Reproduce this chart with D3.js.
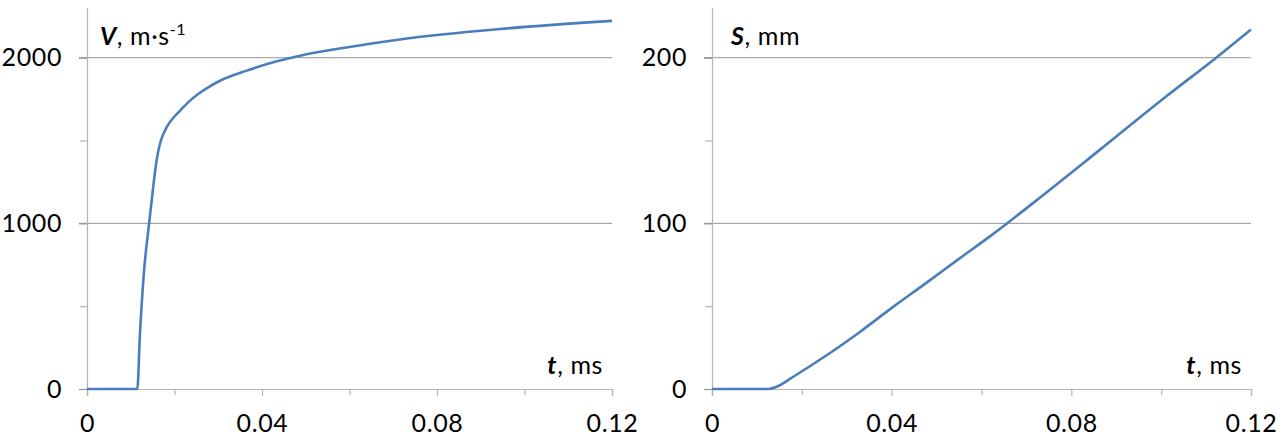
<!DOCTYPE html>
<html>
<head>
<meta charset="utf-8">
<script src="https://cdn.jsdelivr.net/npm/d3@7"></script>
<style>
  body { margin: 0; background: #fff; }
  svg { display: block; }
  text { font-family: Lato, "Open Sans", sans-serif; fill: #000; letter-spacing: 0.6px; }
</style>
</head>
<body>
<svg id="chart" width="1285" height="441"></svg>
<script>
'use strict';

// time, ms
var timeTicks = [0, 0.04, 0.08, 0.12];
var timeMinorTicks = [0.02, 0.06, 0.1];

// velocity panel
var velTime = [0, 0.0115, 0.0121, 0.0130, 0.0142, 0.0152, 0.0160, 0.0167, 0.0175, 0.0182, 0.0195, 0.0213, 0.0233, 0.0254, 0.0278, 0.0304, 0.0365, 0.0434, 0.0487, 0.06, 0.0715, 0.0944, 0.12];
var velValue = [0, 0, 331, 700, 1000, 1235, 1395, 1482, 1542, 1580, 1630, 1681, 1735, 1781, 1823, 1861, 1922, 1978, 2012, 2065, 2110, 2173, 2222];
var velTicks = [0, 1000, 2000];
var velMinorTicks = [500, 1500];

// path panel
var pathTime = [0, 0.0115, 0.0130, 0.0144, 0.0181, 0.0256, 0.0330, 0.0404, 0.0478, 0.0552, 0.0627, 0.0716, 0.0864, 0.1013, 0.1124, 0.12];
var pathValue = [0, 0, 0.2, 1.4, 7.4, 20.5, 34.6, 49.7, 64.2, 79, 93.8, 112.5, 144.5, 177, 200.3, 217];
var pathTicks = [0, 100, 200];
var pathMinorTicks = [50, 150];

var svg = d3.select('#chart');

function drawPanel(cfg) {
  var x = d3.scaleLinear().domain([0, 0.12]).range([cfg.left, cfg.right]);
  var y = d3.scaleLinear().domain([0, cfg.yMax]).range([389, 8]);
  var g = svg.append('g');

  // gridlines
  g.selectAll('line.grid')
    .data(cfg.yTicks.filter(function (d) { return d > 0; }))
    .enter()
    .append('line')
    .attr('x1', cfg.left - 8)
    .attr('x2', cfg.right)
    .attr('y1', function (d) { return y(d); })
    .attr('y2', function (d) { return y(d); })
    .attr('stroke', '#959595')
    .attr('stroke-width', 1);

  // y axis
  var yAxis = g.append('g')
    .attr('transform', 'translate(' + cfg.left + ',0)')
    .call(d3.axisLeft(y).tickValues(cfg.yTicks).tickSize(8).tickPadding(17).tickFormat(d3.format('d')));
  g.append('g')
    .attr('transform', 'translate(' + cfg.left + ',0)')
    .call(d3.axisLeft(y).tickValues(cfg.yMinor).tickSize(7).tickFormat(''))
    .select('.domain').remove();

  // x axis
  var xAxis = g.append('g')
    .attr('transform', 'translate(0,' + y(0) + ')')
    .call(d3.axisBottom(x).tickValues(timeTicks).tickSize(7).tickPadding(18)
      .tickFormat(function (d) { return d === 0 ? '0' : d3.format('.2f')(d); }));
  g.append('g')
    .attr('transform', 'translate(0,' + y(0) + ')')
    .call(d3.axisBottom(x).tickValues(timeMinorTicks).tickSize(6).tickFormat(''))
    .select('.domain').remove();

  g.selectAll('.domain').attr('stroke', '#b4b4b4').attr('stroke-width', 1.2);
  g.selectAll('.tick line').attr('stroke', '#b4b4b4').attr('stroke-width', 1.2);
  yAxis.selectAll('.tick line').attr('stroke', '#959595');
  g.selectAll('.tick text')
    .style('font-family', 'Lato, sans-serif')
    .style('font-size', '25px')
    .attr('fill', '#000');
  xAxis.selectAll('.tick text').attr('dy', '0.71em');
  yAxis.select('.domain').attr('d', 'M0.5,' + (y(0) + 7) + 'V' + y(cfg.yMax));

  // series
  var pts = cfg.tData.map(function (t, i) { return [t, cfg.vData[i]]; });
  var line = d3.line()
    .x(function (d) { return x(d[0]); })
    .y(function (d) { return y(d[1]); })
    .curve(d3.curveMonotoneX);
  g.append('path')
    .datum(pts)
    .attr('d', line)
    .attr('fill', 'none')
    .attr('stroke', '#4a7ebb')
    .attr('stroke-width', 2.6)
    .attr('stroke-linejoin', 'round');

  // y title
  var yt = g.append('text')
    .attr('x', cfg.left + cfg.titleDx)
    .attr('y', 45)
    .style('font-size', '25px');
  yt.append('tspan').style('font-weight', 'bold').style('font-style', 'italic').text(cfg.yName);
  yt.append('tspan').text(cfg.yUnit);
  if (cfg.yUnitSup) {
    yt.append('tspan').attr('dy', -10).style('font-size', '16px').text(cfg.yUnitSup);
  }

  // x title
  var xt = g.append('text')
    .attr('x', cfg.right - 9)
    .attr('y', 374)
    .attr('text-anchor', 'end')
    .style('font-size', '25px');
  xt.append('tspan').style('font-weight', 'bold').style('font-style', 'italic').text('t');
  xt.append('tspan').text(', ms');
}

drawPanel({
  left: 87, right: 612, yMax: 2300,
  yTicks: velTicks, yMinor: velMinorTicks,
  tData: velTime, vData: velValue,
  yName: 'V', yUnit: ', m\u00b7s', yUnitSup: '-1', titleDx: 13
});

drawPanel({
  left: 712, right: 1251, yMax: 230,
  yTicks: pathTicks, yMinor: pathMinorTicks,
  tData: pathTime, vData: pathValue,
  yName: 'S', yUnit: ', mm', yUnitSup: null, titleDx: 19
});
</script>
</body>
</html>
